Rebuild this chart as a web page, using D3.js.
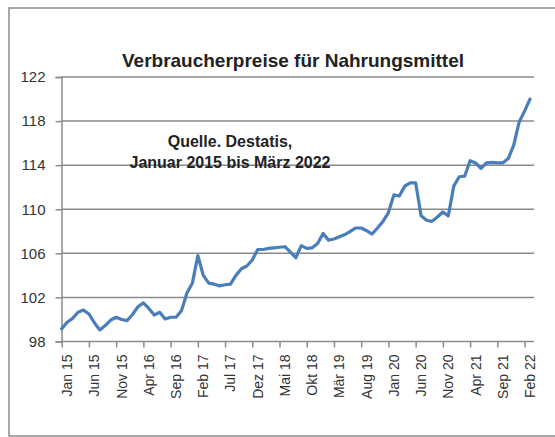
<!DOCTYPE html>
<html>
<head>
<meta charset="utf-8">
<script src="https://cdn.jsdelivr.net/npm/d3@7"></script>
<style>
  body { margin: 0; background: #fff; }
  svg { display: block; font-family: "Liberation Sans", Arial, sans-serif; }
</style>
</head>
<body>
<div id="chart"></div>
<script>
// Verbraucherpreise Nahrungsmittel, Jan 2015 .. Mär 2022 (monatlich)
var months = ["Jan","Feb","Mär","Apr","Mai","Jun","Jul","Aug","Sep","Okt","Nov","Dez"];
var startYear = 2015;
var values = [
  99.15, 99.75, 100.1, 100.65, 100.85, 100.5, 99.7, 99.05, 99.45, 99.95, 100.2, 100.0,
  99.9, 100.45, 101.15, 101.5, 101.0, 100.4, 100.65, 100.05, 100.2, 100.2, 100.8, 102.4,
  103.3, 105.8, 104.0, 103.3, 103.2, 103.05, 103.15, 103.2, 104.0, 104.6, 104.85, 105.4,
  106.35, 106.35, 106.45, 106.5, 106.55, 106.6, 106.1, 105.6, 106.7, 106.45, 106.5, 106.9,
  107.8, 107.2, 107.3, 107.5, 107.7, 108.0, 108.3, 108.3, 108.05, 107.75, 108.3, 108.9,
  109.7, 111.3, 111.2, 112.1, 112.4, 112.4, 109.4, 109.0, 108.9, 109.3, 109.75, 109.4,
  112.1, 112.95, 113.0, 114.4, 114.2, 113.7, 114.2, 114.25, 114.2, 114.2, 114.6, 115.8,
  117.9, 118.9, 120.0
];
var yTicks = [98, 102, 106, 110, 114, 118, 122];
var labelStep = 5;
var title = "Verbraucherpreise für Nahrungsmittel";
var note = ["Quelle. Destatis,", "Januar 2015 bis März 2022"];

var labels = values.map(function (d, i) {
  var y = startYear + Math.floor(i / 12);
  return months[i % 12] + " " + String(y).slice(2);
});

var width = 555, height = 437;
var plot = {left: 61.5, right: 534, top: 77, bottom: 341.5};

var svg = d3.select("#chart").append("svg")
  .attr("width", width)
  .attr("height", height);

// outer frame
svg.append("rect")
  .attr("x", 9).attr("y", 8)
  .attr("width", 560).attr("height", 428)
  .attr("fill", "#fff")
  .attr("stroke", "#8c8c8c")
  .attr("stroke-width", 1.5);

var x = d3.scaleLinear().domain([0, values.length - 1]).range([61.7, 530]);
var y = d3.scaleLinear().domain([98, 122]).range([plot.bottom, plot.top]);

// gridlines
svg.append("g")
  .selectAll("line")
  .data(yTicks.slice(1))
  .enter()
  .append("line")
  .attr("x1", plot.left).attr("x2", plot.right)
  .attr("y1", d => y(d)).attr("y2", d => y(d))
  .attr("stroke", "#8a8a8a")
  .attr("stroke-width", 1.5);

// y axis
var yAxis = svg.append("g")
  .attr("transform", `translate(${plot.left},0)`)
  .call(d3.axisLeft(y).tickValues(yTicks).tickSize(6).tickPadding(10).tickFormat(d3.format("d")));
yAxis.select(".domain").attr("stroke", "#8a8a8a").attr("stroke-width", 1.5);
yAxis.selectAll(".tick line").attr("stroke", "#8a8a8a").attr("stroke-width", 1.5);
yAxis.selectAll("text")
  .style("font-size", "15px")
  .attr("fill", "#333");

// x axis
var tickIdx = d3.range(0, values.length, labelStep);
var xAxis = svg.append("g")
  .attr("transform", `translate(0,${plot.bottom})`)
  .call(d3.axisBottom(x).tickValues(tickIdx).tickSize(6).tickSizeOuter(0).tickFormat(i => labels[i]));
xAxis.select(".domain")
  .attr("d", `M${plot.left},0H${plot.right}`)
  .attr("stroke", "#8a8a8a").attr("stroke-width", 1.5);
xAxis.selectAll(".tick line").attr("stroke", "#8a8a8a").attr("stroke-width", 1.5);
xAxis.selectAll("text")
  .style("font-size", "14px")
  .attr("fill", "#333")
  .attr("text-anchor", "end")
  .attr("dy", "0.35em")
  .attr("transform", "translate(5,13) rotate(-90)")
  .attr("x", 0)
  .attr("y", 0);

// line
var line = d3.line()
  .x((d, i) => x(i))
  .y(d => y(d));

svg.append("path")
  .datum(values)
  .attr("fill", "none")
  .attr("stroke", "#4a7ebb")
  .attr("stroke-width", 3.2)
  .attr("stroke-linejoin", "round")
  .attr("stroke-linecap", "round")
  .attr("d", line);

// title
svg.append("text")
  .attr("x", 293).attr("y", 67)
  .attr("text-anchor", "middle")
  .style("font-size", "19px")
  .style("font-weight", "bold")
  .attr("fill", "#222")
  .text(title);

// annotation
svg.append("g")
  .selectAll("text")
  .data(note)
  .enter()
  .append("text")
  .attr("x", 230)
  .attr("y", (d, i) => 147 + i * 21)
  .attr("text-anchor", "middle")
  .style("font-size", "16px")
  .style("font-weight", "bold")
  .attr("fill", "#222")
  .text(d => d);
</script>
</body>
</html>
